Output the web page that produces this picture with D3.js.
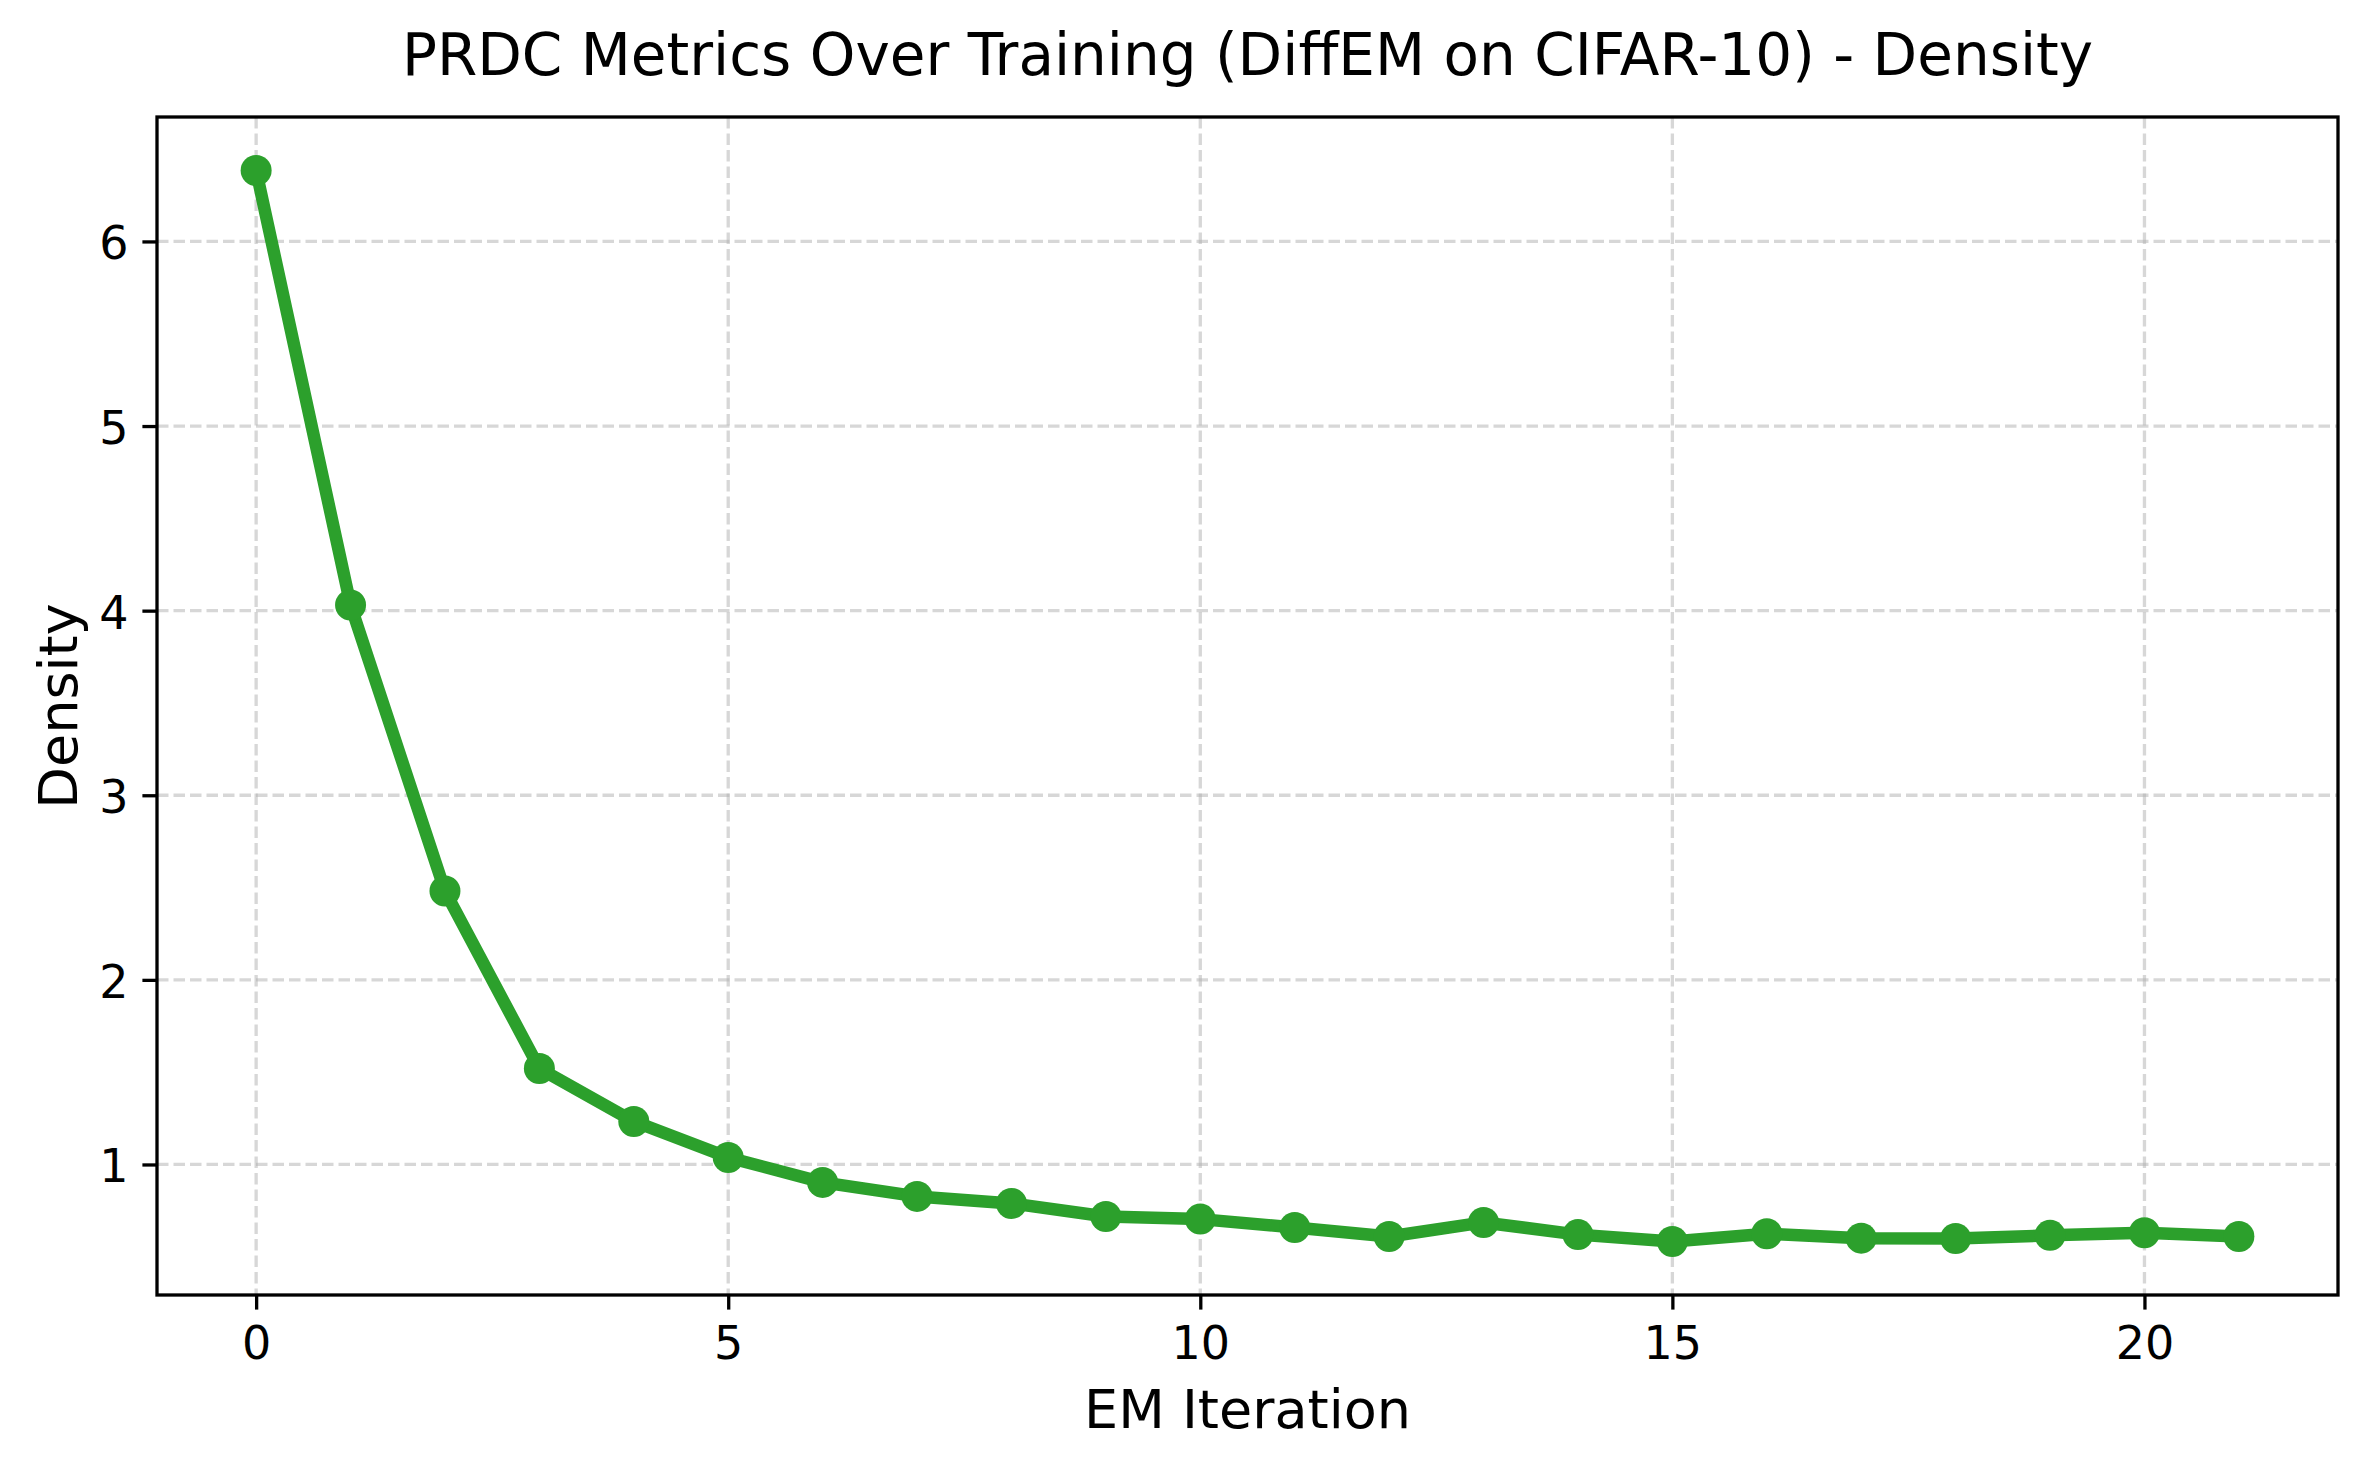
<!DOCTYPE html>
<html>
<head>
<meta charset="utf-8">
<script src="https://cdn.jsdelivr.net/npm/d3@7"></script>
<style>
  html, body { margin: 0; padding: 0; background: #ffffff; }
  svg { display: block; }
  text { font-family: "DejaVu Sans", sans-serif; fill: #000; }
</style>
</head>
<body>
<svg id="chart" width="2368" height="1468"></svg>
<script>
// ---- data ----
const iterations = [0,1,2,3,4,5,6,7,8,9,10,11,12,13,14,15,16,17,18,19,20,21];
const density = [6.384, 4.031, 2.481, 1.520, 1.233, 1.038, 0.903, 0.827, 0.789, 0.718, 0.704,
                 0.659, 0.610, 0.686, 0.620, 0.583, 0.625, 0.601, 0.599, 0.616, 0.630, 0.610];
const xTicks = [0, 5, 10, 15, 20];
const yTicks = [1, 2, 3, 4, 5, 6];
const titleText = "PRDC Metrics Over Training (DiffEM on CIFAR-10) - Density";
const xLabelText = "EM Iteration";
const yLabelText = "Density";

(function () {
  // ---- layout ----
  const pL = 157, pR = 2338, pT = 117, pB = 1295;
  const color = "#2ca02c";

  const svg = d3.select("#chart");

  function padded(ext) {
    const r = ext[1] - ext[0];
    return [ext[0] - 0.05 * r, ext[1] + 0.05 * r];
  }
  const x = d3.scaleLinear().domain(padded(d3.extent(iterations))).range([pL, pR]);
  const y = d3.scaleLinear().domain(padded(d3.extent(density))).range([pB, pT]);

  // grid
  const grid = svg.append("g");
  grid.selectAll("line.gx").data(xTicks).join("line").attr("class", "gx")
    .attr("x1", d => x(d)).attr("x2", d => x(d))
    .attr("y1", pT).attr("y2", pB)
    .attr("stroke", "#b0b0b0").attr("stroke-opacity", 0.5)
    .attr("stroke-width", 3.3).attr("stroke-dasharray", "11.5,5");
  grid.selectAll("line.gy").data(yTicks).join("line").attr("class", "gy")
    .attr("x1", pL).attr("x2", pR)
    .attr("y1", d => y(d)).attr("y2", d => y(d))
    .attr("stroke", "#b0b0b0").attr("stroke-opacity", 0.5)
    .attr("stroke-width", 3.3).attr("stroke-dasharray", "11.5,5");

  // line
  const pts = iterations.map((d, i) => [d, density[i]]);
  svg.append("path")
    .datum(pts)
    .attr("d", d3.line().x(d => x(d[0])).y(d => y(d[1])))
    .attr("fill", "none")
    .attr("stroke", color)
    .attr("stroke-width", 12.5)
    .attr("stroke-linejoin", "round")
    .attr("stroke-linecap", "butt");

  svg.append("g").selectAll("circle").data(pts).join("circle")
    .attr("cx", d => x(d[0])).attr("cy", d => y(d[1]))
    .attr("r", 15.5).attr("fill", color);

  // axes
  const xAxis = d3.axisBottom(x).tickValues(xTicks).tickSize(14.6).tickPadding(12).tickFormat(d3.format("d"));
  const yAxis = d3.axisLeft(y).tickValues(yTicks).tickSize(14.6).tickPadding(14).tickFormat(d3.format("d"));

  const gx = svg.append("g").attr("transform", `translate(0,${pB})`).call(xAxis);
  const gy = svg.append("g").attr("transform", `translate(${pL},0)`).call(yAxis);
  [gx, gy].forEach(g => {
    g.select(".domain").remove();
    g.selectAll(".tick line").attr("stroke", "#000").attr("stroke-width", 3.3);
    g.selectAll(".tick text").attr("font-size", 46).attr("font-family", "DejaVu Sans").attr("fill", "#000");
  });
  gx.selectAll(".tick text").attr("dy", null).attr("y", 64);
  gy.selectAll(".tick text").attr("dy", null).attr("y", 17.5);

  // frame
  svg.append("rect")
    .attr("x", pL).attr("y", pT)
    .attr("width", pR - pL).attr("height", pB - pT)
    .attr("fill", "none").attr("stroke", "#000").attr("stroke-width", 3.3);

  // labels
  svg.append("text")
    .attr("x", (pL + pR) / 2).attr("y", 75)
    .attr("text-anchor", "middle").attr("font-size", 58)
    .text(titleText);
  svg.append("text")
    .attr("x", (pL + pR) / 2).attr("y", 1428)
    .attr("text-anchor", "middle").attr("font-size", 54)
    .text(xLabelText);
  svg.append("text")
    .attr("transform", `translate(77,${(pT + pB) / 2}) rotate(-90)`)
    .attr("text-anchor", "middle").attr("font-size", 54)
    .text(yLabelText);
})();
</script>
</body>
</html>
